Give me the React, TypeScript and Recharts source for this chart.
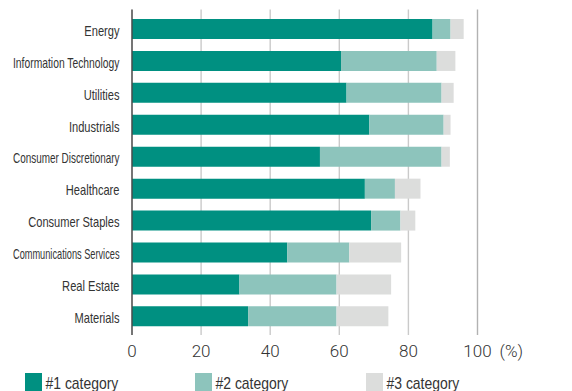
import { BarChart, Bar, XAxis, YAxis, CartesianGrid } from 'recharts';

const sectors = [
  'Energy',
  'Information Technology',
  'Utilities',
  'Industrials',
  'Consumer Discretionary',
  'Healthcare',
  'Consumer Staples',
  'Communications Services',
  'Real Estate',
  'Materials',
];
const firstShare = [87.0, 60.5, 62.1, 68.7, 54.4, 67.4, 69.2, 44.9, 31.1, 33.6];
const secondShare = [5.2, 27.7, 27.5, 21.5, 35.2, 8.7, 8.5, 18.0, 28.1, 25.6];
const thirdShare = [3.8, 5.4, 3.5, 2.0, 2.4, 7.4, 4.3, 15.0, 15.8, 15.0];
const xTicks = [0, 20, 40, 60, 80, 100];
const seriesNames = ['#1 category', '#2 category', '#3 category'];
const unitLabel = '(%)';

const COLORS = ['#009081', '#8dc4bc', '#dcdddc'];
const LABEL_FONT = "'Liberation Sans', Arial, sans-serif";

const data = sectors.map((name, i) => ({
  name,
  first: firstShare[i],
  second: secondShare[i],
  third: thirdShare[i],
}));

// condensed look: squeeze text with textLength, measured on a canvas
let ctx: CanvasRenderingContext2D | null = null;
const measure = (text: string, font: string) => {
  if (!ctx) ctx = document.createElement('canvas').getContext('2d');
  if (!ctx) return text.length * 7;
  ctx.font = font;
  return ctx.measureText(text).width;
};

// eslint-disable-next-line @typescript-eslint/no-explicit-any
const YTick = ({ x, y, payload }: any) => {
  const label: string = payload.value;
  const w = Math.min(measure(label, `15px ${LABEL_FONT}`) * 0.74, 106.5);
  return (
    <text
      x={x - 4.5}
      y={y}
      dy={6.8}
      textAnchor="end"
      fontSize={15}
      fontFamily={LABEL_FONT}
      fill="#333"
      textLength={w}
      lengthAdjust="spacingAndGlyphs"
    >
      {label}
    </text>
  );
};

// eslint-disable-next-line @typescript-eslint/no-explicit-any
const XTick = ({ x, y, payload }: any) => (
  <g>
    <text x={x} y={y} dy={14} textAnchor="middle" fontSize={17} fontWeight={300} fontFamily="Roboto, sans-serif" fill="#333">
      {payload.value}
    </text>
    {payload.value === xTicks[xTicks.length - 1] && (
      <text x={x + 22} y={y} dy={14} textAnchor="start" fontSize={17} fontWeight={300} fontFamily="Roboto, sans-serif" fill="#333">
        {unitLabel}
      </text>
    )}
  </g>
);

// eslint-disable-next-line @typescript-eslint/no-explicit-any
const GridLine = (props: any) => {
  const { x1, x2, y1, y2, index } = props;
  const last = index === xTicks.length - 1;
  return <line x1={x1} x2={x2} y1={y1} y2={y2} stroke={last ? '#b2b2b2' : '#cacaca'} strokeWidth={1.4} />;
};

const LegendRow = () => {
  const xs = [25, 195, 366];
  return (
    <svg width={572} height={20} style={{ position: 'absolute', left: 0, top: 373 }}>
      {seriesNames.map((name, i) => {
        const w = measure(name, `17px ${LABEL_FONT}`) * 0.82;
        return (
          <g key={name}>
            <rect x={xs[i]} y={0} width={17} height={20} fill={COLORS[i]} />
            <text
              x={xs[i] + 20.5}
              y={16}
              fontSize={17}
              fontFamily={LABEL_FONT}
              fill="#333"
              textLength={w}
              lengthAdjust="spacingAndGlyphs"
            >
              {name}
            </text>
          </g>
        );
      })}
    </svg>
  );
};

export default function App() {
  return (
    <div style={{ position: 'absolute', left: 0, top: 0, width: 572, height: 391, overflow: 'hidden', background: '#fff' }}>
      <BarChart
        width={572}
        height={391}
        data={data}
        layout="vertical"
        margin={{ top: 9.5, right: 94.5, bottom: 30, left: 0 }}
        barSize={20}
      >
        <CartesianGrid horizontal={false} vertical={GridLine} />
        <XAxis
          type="number"
          domain={[0, 100]}
          ticks={xTicks}
          axisLine={false}
          tickLine={false}
          height={26}
          tick={<XTick />}
          interval={0}
        />
        <YAxis
          type="category"
          dataKey="name"
          width={132}
          axisLine={{ stroke: '#4a4a4a', strokeWidth: 1.4 }}
          tickLine={false}
          interval={0}
          tick={<YTick />}
          padding={{ top: 3.5, bottom: 2.7 }}
        />
        <Bar dataKey="first" stackId="a" fill={COLORS[0]} isAnimationActive={false} />
        <Bar dataKey="second" stackId="a" fill={COLORS[1]} isAnimationActive={false} />
        <Bar dataKey="third" stackId="a" fill={COLORS[2]} isAnimationActive={false} />
      </BarChart>
      <LegendRow />
    </div>
  );
}
